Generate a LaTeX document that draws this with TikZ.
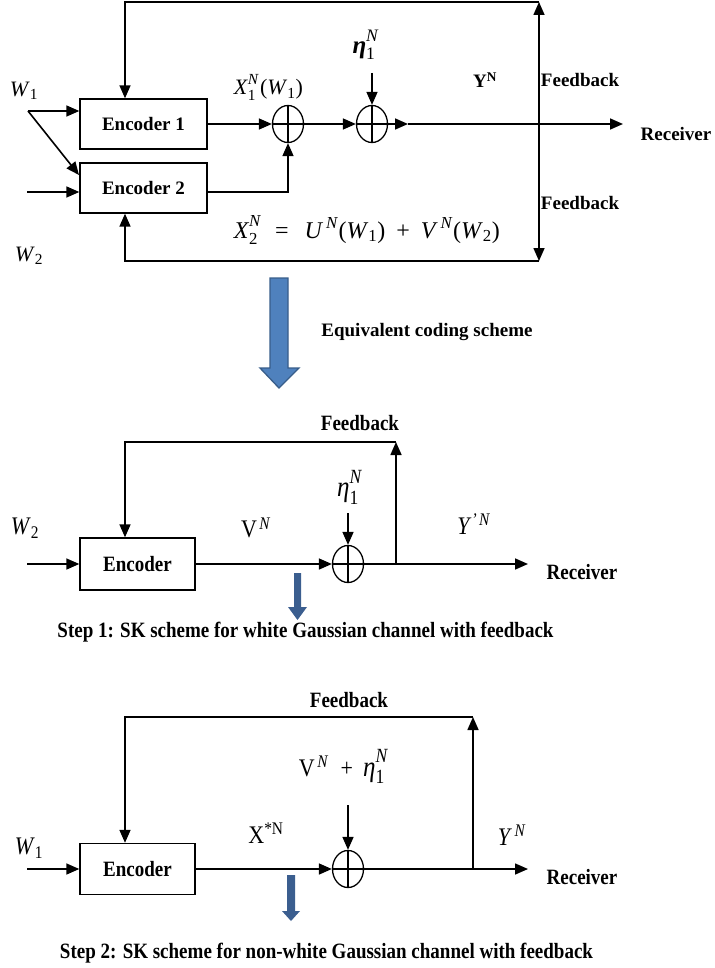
\documentclass[tikz,border=0pt]{standalone}
\usepackage{fontspec}
\usepackage{graphicx}
\setmainfont{Liberation Serif}
\usetikzlibrary{arrows.meta,shapes.geometric}
\definecolor{bigfill}{RGB}{79,129,189}
\definecolor{bigline}{RGB}{56,93,138}
\definecolor{smallblue}{RGB}{59,94,143}
\newcommand\SbSp[3]{#1\rlap{\raisebox{0.12em}{\textsuperscript{#2}}}\raisebox{-0.1em}{\textsubscript{#3}}}
\newcommand\tall[1]{\scalebox{1}[1.15]{#1}}
\begin{document}
\begin{tikzpicture}[x=1pt,y=-1pt,
  line width=1.6pt,
  arr/.style={-{Triangle[length=13pt,width=11pt]}},
  enc/.style={draw, line width=1.4pt, minimum width=127pt, minimum height=50pt, inner sep=0pt, font=\bfseries\fontsize{19}{21}\selectfont},
  adder/.style={draw, ellipse, line width=1.3pt, minimum width=31pt, minimum height=37pt, inner sep=0pt,
    path picture={\draw[line width=1.3pt] (path picture bounding box.north) -- (path picture bounding box.south)
      (path picture bounding box.west) -- (path picture bounding box.east);}},
  bf/.style={font=\bfseries\fontsize{19}{21}\selectfont, inner sep=0pt},
  it/.style={font=\fontsize{22}{24}\selectfont, inner sep=0pt},
  eta/.style={font=\fontsize{25}{27}\selectfont, inner sep=0pt},
]
\useasboundingbox (0,0) rectangle (714,968);

% ---------- Section 1 ----------
\node[enc] (e1) at (143.5,124) {Encoder 1};
\node[enc] (e2) at (143.5,188) {Encoder 2};
\node[adder] (a1) at (288,124) {};
\node[adder] (a2) at (372,124) {};
\coordinate (w1s) at (28,111);
\coordinate (d2) at (79,175);
\coordinate (in2) at (27,192);
\draw[arr] (w1s) -- (e1.west |- w1s);
\draw[arr] (w1s) -- (d2);
\draw[arr] (in2) -- (e2.west |- in2);
\draw[arr] (e1.east) -- (a1.west);
\draw[arr] (e2.east |- in2) -| (a1.south);
\draw[arr] (a1.east) -- (a2.west);
\coordinate (o1) at (408,124);
\coordinate (r1) at (623,124);
\draw[arr] (a2.east) -- (o1);
\draw[arr] (o1) -- (r1);
\coordinate (n1) at (372,73);
\draw[arr] (n1) -- (a2.north);
\coordinate (fm) at (539,124);
\coordinate (ft) at (539,2);
\coordinate (fb) at (539,261);
\draw[arr] (fm) -- (ft);
\draw[arr] (fm) -- (fb);
\draw[arr] (ft) -| ([xshift=-18.5pt]e1.north);
\draw[arr] (fb) -| ([xshift=-18.5pt]e2.south);

\node[it] (lw1) at (24,91) {\textit{W}\textsubscript{1}};
\node[it] (lw2) at (29,256) {\textit{W}\textsubscript{2}};
\node[it, anchor=base west] (lx1) at (233,95) {\SbSp{\textit{X}}{\textit{N}}{1}\hspace{4pt}(\textit{W}\textsubscript{1})};
\node[eta] (leta1) at (364,45) {\SbSp{\textbf{\textit{η}}}{\textit{N}}{1}};
\node[bf] (ly1) at (485,80) {Y\textsuperscript{N}};
\node[bf] (fb1) at (580,80) {Feedback};
\node[bf] (fb2) at (580,203) {Feedback};
\node[bf] (rc1) at (676,134) {Receiver};
\node[it, font=\fontsize{24}{26}\selectfont, anchor=base west] (lx2) at (233,238) {\SbSp{\textit{X}}{\textit{N}}{2}\hspace{17pt}=\hspace{16pt}\textit{U}\textsuperscript{\,\textit{N}}(\textit{W}\textsubscript{1})\hspace{11pt}+\hspace{11pt}\textit{V}\textsuperscript{\,\textit{N}}(\textit{W}\textsubscript{2})};

% big arrow
\draw[line width=1.3pt, draw=bigline, fill=bigfill]
  (270,278) -- (288,278) -- (288,368) -- (299,368) -- (279,388) -- (260,368) -- (270,368) -- cycle;
\node[bf] (eq) at (427,332) {Equivalent coding scheme};

% ---------- Section 2 ----------
\node[enc, minimum width=115pt, minimum height=52pt] (e3) at (137.5,564) {\tall{Encoder}};
\node[adder] (a3) at (348,564) {};
\coordinate (in3) at (27,564);
\draw[arr] (in3) -- (e3.west);
\draw[arr] (e3.east) -- (a3.west);
\coordinate (n3) at (348,513);
\draw[arr] (n3) -- (a3.north);
\coordinate (r3) at (528,564);
\draw[arr] (a3.east) -- (r3);
\coordinate (b3) at (396,564);
\coordinate (t3) at (396,442);
\draw[arr] (b3) -- (t3);
\draw[arr] (t3) -| ([xshift=-12.5pt]e3.north);

\node[it] (lw3) at (25,528) {\tall{\textit{W}\textsubscript{2}}};
\node[it] (lv3) at (256,528) {\tall{V\textsuperscript{\,\textit{N}}}};
\node[eta] (leta3) at (348,487) {\tall{\SbSp{\textit{η}}{\textit{N}}{1}}};
\node[it] (ly3) at (474,524) {\tall{\textit{Y}\textsuperscript{\textit{'\,N}}}};
\node[bf] (fb3) at (360,423) {\tall{Feedback}};
\node[bf] (rc3) at (582,572) {\tall{Receiver}};
\fill[smallblue] (294,573) -- (301,573) -- (301,607) -- (307,607) -- (297.5,620) -- (288,607) -- (294,607) -- cycle;
\node[bf] (st1) at (305.5,632) {\tall{Step 1: SK scheme for white Gaussian channel with feedback}};

% ---------- Section 3 ----------
\node[enc, minimum width=115pt, minimum height=51pt] (e4) at (137.5,869) {\tall{Encoder}};
\node[adder] (a4) at (348,869) {};
\coordinate (in4) at (27,869);
\draw[arr] (in4) -- (e4.west);
\draw[arr] (e4.east) -- (a4.west);
\coordinate (n4) at (348,805);
\draw[arr] (n4) -- (a4.north);
\coordinate (r4) at (528,869);
\draw[arr] (a4.east) -- (r4);
\coordinate (b4) at (473,869);
\coordinate (t4) at (473,717);
\draw[arr] (b4) -- (t4);
\draw[arr] (t4) -| ([xshift=-12.5pt]e4.north);

\node[it] (lw4) at (29,848) {\tall{\textit{W}\textsubscript{1}}};
\node[it, anchor=base west] (lvn) at (298,776) {\tall{V\textsuperscript{\,\textit{N}}\hspace{12pt}+\hspace{10pt}{\fontsize{25}{27}\selectfont\SbSp{\textit{η}}{\textit{N}}{1}}}};
\node[it] (lx4) at (266,833) {\tall{X\textsuperscript{*N}}};
\node[it] (ly4) at (512,835) {\tall{\textit{Y}\textsuperscript{\,\textit{N}}}};
\node[bf] (fb4) at (349,700) {\tall{Feedback}};
\node[bf] (rc4) at (582,877) {\tall{Receiver}};
\fill[smallblue] (287,875) -- (295,875) -- (295,911) -- (300,911) -- (291,921) -- (282,911) -- (287,911) -- cycle;
\node[bf] (st2) at (326.5,953) {\tall{Step 2: SK scheme for non-white Gaussian channel with feedback}};
\end{tikzpicture}
\end{document}
